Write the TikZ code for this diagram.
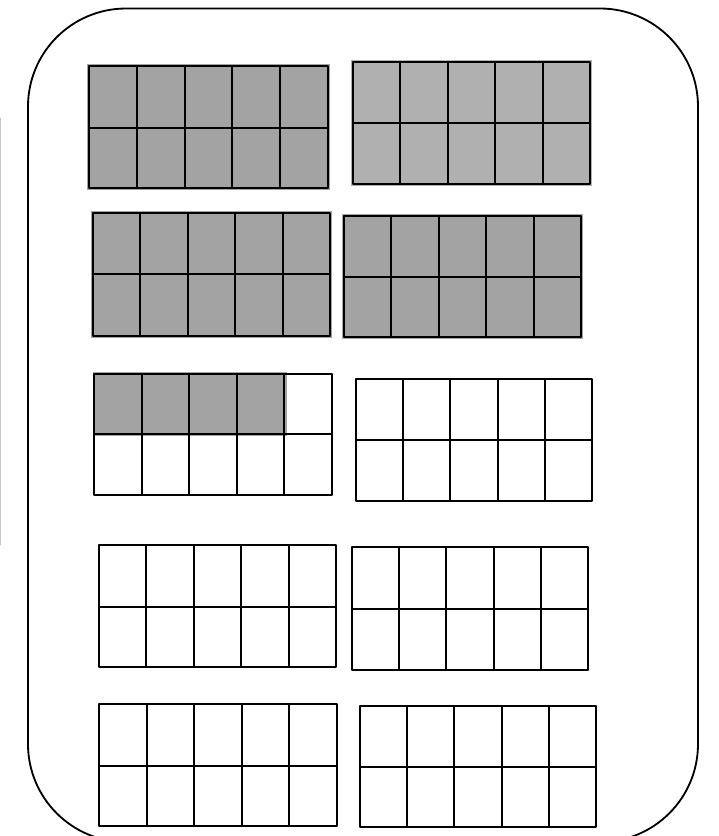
\documentclass[tikz,border=0pt]{standalone}
\usepackage{tikz}
\begin{document}
\begin{tikzpicture}[line cap=round,line join=round,x=0.025cm,y=-0.025cm,
  frameline/.style={line width=1.4pt},
  shaded/.style={fill=gray!72}]
\clip(0,0) rectangle (718,836);
% scanner edge
\draw[gray!45,line width=0.6pt] (0.5,118)-- (0.5,545);
% card
\draw[line width=1.3pt,rounded corners=2.45cm] (28,8.5) rectangle (698,842);
% coloured-in cells
\fill[shaded] (87,64) rectangle (330,190);
\fill[shaded,fill=gray!62] (351,60) rectangle (592,186);
\fill[shaded] (91,211) rectangle (332,338);
\fill[shaded] (342,214) rectangle (583,339);
\fill[shaded] (93,372) rectangle (287,436);
% ten frames
\foreach \xa/\ya/\xb/\yb/\ym in {89/66/328/188/128, 353/62/590/184/123,
  93/213/330/336/274, 344/216/581/337/277,
  94/374/332/495/434, 356/379/592/501/440,
  99/545/336/667/607, 352/547/588/670/609,
  99/704/337/826/766, 360/706/596/827/767}
{
  \draw[frameline] (\xa,\ya) rectangle (\xb,\yb);
  \draw[frameline] (\xa,\ym)-- (\xb,\ym);
  \foreach \k in {1,...,4}
    \draw[frameline] ({\xa+\k*(\xb-\xa)/5},\ya)-- ({\xa+\k*(\xb-\xa)/5},\yb);
}
\end{tikzpicture}
\end{document}
